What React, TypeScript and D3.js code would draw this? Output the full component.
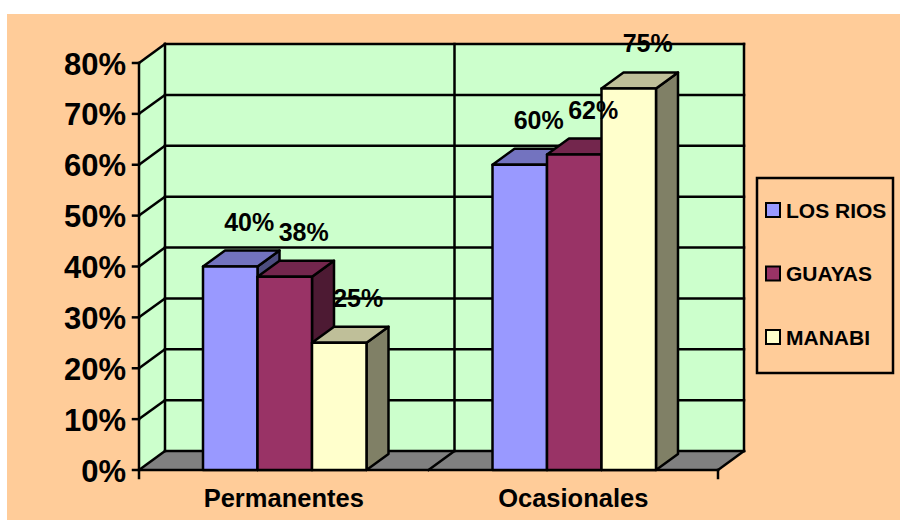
import React from "react";
import * as d3 from "d3";

// Data
const categories = ["Permanentes", "Ocasionales"];
const seriesNames = ["LOS RIOS", "GUAYAS", "MANABI"];
const losRios = [0.4, 0.6];
const guayas = [0.38, 0.62];
const manabi = [0.25, 0.75];
const yTicks = [0, 0.1, 0.2, 0.3, 0.4, 0.5, 0.6, 0.7, 0.8];

const seriesValues = [losRios, guayas, manabi];
const frontColors = ["#9999FF", "#993366", "#FFFFCC"];
const topColors = ["#7373BF", "#73264D", "#BFBF99"];
const sideColors = ["#4D4D80", "#4D1A33", "#808066"];

const W = 900;
const H = 520;
const FONT = "'Liberation Sans', Arial, Helvetica, sans-serif";

// Plot frame (front plane) and depth offsets
const left = 139;
const right = 718;
const bottom = 470;
const top = 63;
const wallDx = 26;
const wallDy = -19;
const barDx = 22;
const barDy = -16;
const barShift = 1;
const LW = 2.5;

export default function App() {
  const x = d3.scaleBand<string>().domain(categories).range([left, right]);
  const inner = d3
    .scaleBand<string>()
    .domain(seriesNames)
    .range([0, x.bandwidth()])
    .paddingInner(0)
    .paddingOuter(1.156);
  const y = d3.scaleLinear().domain([0, 0.8]).range([bottom, top]);
  const pct = d3.format(".0%");

  const bl = left + wallDx; // back-left x
  const br = right + wallDx; // back-right x
  const yb = (v: number) => y(v) + wallDy;

  const pts = (p: [number, number][]) => p.map((d) => d.join(",")).join(" ");

  const bars: React.ReactNode[] = [];
  const labels: React.ReactNode[] = [];
  categories.forEach((c, ci) => {
    seriesNames.forEach((s, si) => {
      const v = seriesValues[si][ci];
      const x0 = (x(c) as number) + (inner(s) as number) + barShift;
      const x1 = x0 + inner.bandwidth();
      const y0 = y(0);
      const y1 = y(v);
      bars.push(
        <g key={`${c}-${s}`} stroke="#000" strokeWidth={LW} strokeLinejoin="round">
          <polygon
            points={pts([[x1, y0], [x1 + barDx, y0 + barDy], [x1 + barDx, y1 + barDy], [x1, y1]])}
            fill={sideColors[si]}
          />
          <polygon
            points={pts([[x0, y1], [x0 + barDx, y1 + barDy], [x1 + barDx, y1 + barDy], [x1, y1]])}
            fill={topColors[si]}
          />
          <rect x={x0} y={y1} width={x1 - x0} height={y0 - y1} fill={frontColors[si]} />
        </g>
      );
      labels.push(
        <text
          key={`l-${c}-${s}`}
          x={(x0 + x1) / 2 + 19}
          y={y1 - 36}
          textAnchor="middle"
          fontFamily={FONT}
          fontWeight="bold"
          fontSize={25}
          fill="#000"
        >
          {pct(v)}
        </text>
      );
    });
  });

  const divider = x(categories[1]) as number;

  return (
    <div style={{ position: "absolute", left: 0, top: 0 }}>
      <svg width={W} height={H} viewBox={`0 0 ${W} ${H}`} style={{ display: "block" }}>
        <rect x={0} y={0} width={W} height={H} fill="#fff" />
        <rect x={7} y={14} width={W - 7} height={H - 14} fill="#FFCC99" />

        {/* walls and floor */}
        <polygon
          points={pts([[left, top], [bl, yb(0.8)], [bl, yb(0)], [left, bottom]])}
          fill="#CCFFCC"
        />
        <rect x={bl} y={yb(0.8)} width={br - bl} height={yb(0) - yb(0.8)} fill="#CCFFCC" />
        <polygon
          points={pts([[left, bottom], [bl, yb(0)], [br, yb(0)], [right, bottom]])}
          fill="#808080"
        />

        <g stroke="#000" strokeWidth={LW} fill="none" strokeLinecap="square">
          {yTicks.map((t) => (
            <g key={t}>
              <line x1={bl} x2={br} y1={yb(t)} y2={yb(t)} />
              <line x1={left} x2={bl} y1={y(t)} y2={yb(t)} />
              <line x1={left - 6} x2={left} y1={y(t)} y2={y(t)} />
            </g>
          ))}
          <line x1={bl} x2={bl} y1={yb(0.8)} y2={yb(0)} />
          <line x1={br} x2={br} y1={yb(0.8)} y2={yb(0)} />
          <line x1={divider + wallDx} x2={divider + wallDx} y1={yb(0.8)} y2={yb(0)} />
          <line x1={divider + wallDx} x2={divider} y1={yb(0)} y2={bottom} />
          <line x1={right} x2={br} y1={bottom} y2={yb(0)} />
          <line x1={left} x2={left} y1={top} y2={bottom + 8} />
          <line x1={left} x2={right} y1={bottom} y2={bottom} />
          <line x1={right} x2={right} y1={bottom} y2={bottom + 8} />
        </g>

        {bars}
        {labels}

        {/* value axis labels */}
        {yTicks.map((t) => (
          <text
            key={`t-${t}`}
            x={left - 13}
            y={y(t) + 11.5}
            textAnchor="end"
            fontFamily={FONT}
            fontWeight="bold"
            fontSize={31}
            fill="#000"
          >
            {pct(t)}
          </text>
        ))}

        {/* category labels */}
        {categories.map((c) => (
          <text
            key={`c-${c}`}
            x={(x(c) as number) + x.bandwidth() / 2}
            y={507}
            textAnchor="middle"
            fontFamily={FONT}
            fontWeight="bold"
            fontSize={25.5}
            fill="#000"
          >
            {c}
          </text>
        ))}

        {/* legend */}
        <rect x={757} y={178} width={136} height={195} fill="none" stroke="#000" strokeWidth={LW} />
        {seriesNames.map((s, i) => {
          const cy = 210 + i * 63.5;
          return (
            <g key={`lg-${s}`}>
              <rect
                x={766}
                y={cy - 7}
                width={14}
                height={14}
                fill={frontColors[i]}
                stroke="#000"
                strokeWidth={2}
              />
              <text
                x={786}
                y={cy + 7.5}
                fontFamily={FONT}
                fontWeight="bold"
                fontSize={21}
                fill="#000"
              >
                {s}
              </text>
            </g>
          );
        })}
      </svg>
    </div>
  );
}
